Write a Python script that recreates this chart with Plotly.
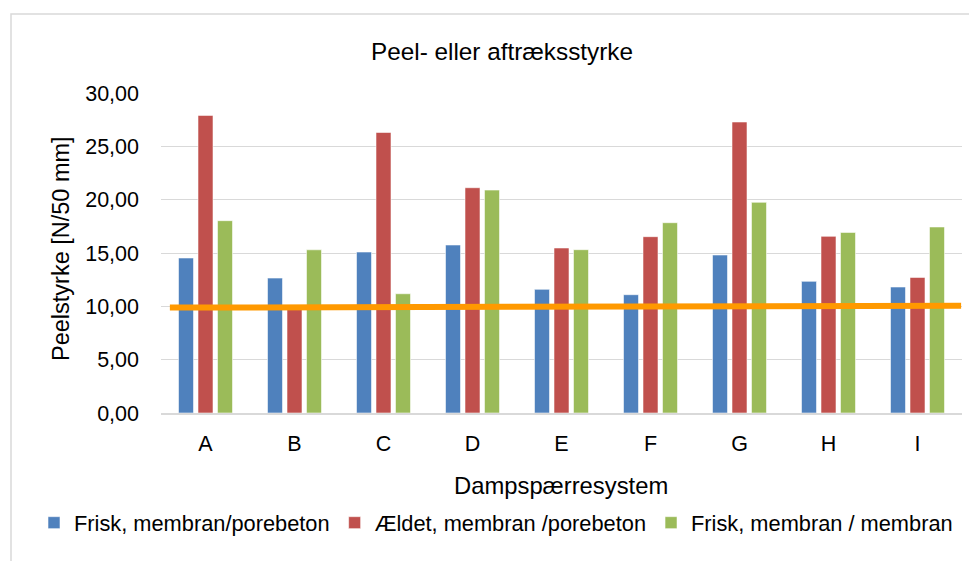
import plotly.graph_objects as go

categories = ["A", "B", "C", "D", "E", "F", "G", "H", "I"]
frisk_porebeton = [14.53, 12.65, 15.09, 15.75, 11.59, 11.09, 14.81, 12.34, 11.81]
aeldet_porebeton = [27.90, 9.85, 26.30, 21.12, 15.47, 16.53, 27.28, 16.56, 12.71]
frisk_membran = [18.03, 15.30, 11.18, 20.90, 15.31, 17.84, 19.75, 16.93, 17.44]
series_names = ["Frisk, membran/porebeton", "Ældet, membran /porebeton", "Frisk, membran / membran"]
colors = ["#4F81BD", "#C0504D", "#9BBB59"]

# orange reference line (start/end in category units, value in N/50 mm)
ref_x = [-0.40, 8.49]
ref_y = [9.88, 10.05]

FONT = "Liberation Sans, Arial, sans-serif"

# pixel geometry helpers
L, R, T, B = 161, 962, 93, 413
W, H = 969, 561
def px(x):
    return (x - L) / (R - L)
def py(y):
    return (B - y) / (B - T)

fig = go.Figure()
for name, vals, c in zip(series_names, [frisk_porebeton, aeldet_porebeton, frisk_membran], colors):
    fig.add_trace(go.Bar(
        x=categories, y=vals, name=name,
        marker=dict(color=c, line=dict(color="rgba(255,255,255,0.55)", width=1)),
    ))

fig.add_trace(go.Scatter(
    x=ref_x, y=ref_y, mode="lines", xaxis="x2", showlegend=False,
    line=dict(color="#FF9900", width=6), hoverinfo="skip",
))

fig.update_layout(
    width=W, height=H,
    margin=dict(l=L, r=W - R, t=T, b=H - B, pad=0),
    paper_bgcolor="white", plot_bgcolor="white",
    font=dict(family=FONT, size=22, color="#000000"),
    separators=",.",
    barmode="group", bargap=0.343, bargroupgap=0.23,
    showlegend=True,
    legend=dict(orientation="h", x=px(34), xanchor="left", y=py(523), yanchor="middle",
                font=dict(family=FONT, size=21.8, color="#000000"),
                bgcolor="rgba(0,0,0,0)", traceorder="normal", borderwidth=0),
    xaxis=dict(type="category", showgrid=False, showline=True, linecolor="#d9d9d9", linewidth=1.5,
               ticks="", tickfont=dict(size=21.5), ticklabelstandoff=10, zeroline=False),
    xaxis2=dict(overlaying="x", range=[-0.5, 8.5], visible=False, showgrid=False),
    yaxis=dict(range=[0, 30], dtick=5, tickformat=".2f", showgrid=True, gridcolor="#d9d9d9",
               gridwidth=1, zeroline=False, showline=False, ticks="",
               tickfont=dict(size=21.5), ticklabelstandoff=21),
    annotations=[
        dict(text="Peel- eller aftræksstyrke", xref="paper", yref="paper", x=px(502), y=py(52),
             xanchor="center", yanchor="middle", showarrow=False, font=dict(size=24.3)),
        dict(text="Dampspærresystem", xref="paper", yref="paper", x=px(561), y=py(485),
             xanchor="center", yanchor="middle", showarrow=False, font=dict(size=23.8)),
        dict(text="Peelstyrke [N/50 mm]", xref="paper", yref="paper", x=px(61), y=py(249),
             xanchor="center", yanchor="middle", showarrow=False, textangle=-90, font=dict(size=23.5)),
    ],
    shapes=[
        dict(type="rect", xref="paper", yref="paper", x0=px(11), y0=py(600), x1=px(1000), y1=py(14),
             line=dict(color="#d9d9d9", width=1.5), fillcolor="rgba(0,0,0,0)", layer="below"),
    ],
)

fig.write_html("out.html", config={"displayModeBar": False},
               post_script="document.body.style.margin='0px';")
